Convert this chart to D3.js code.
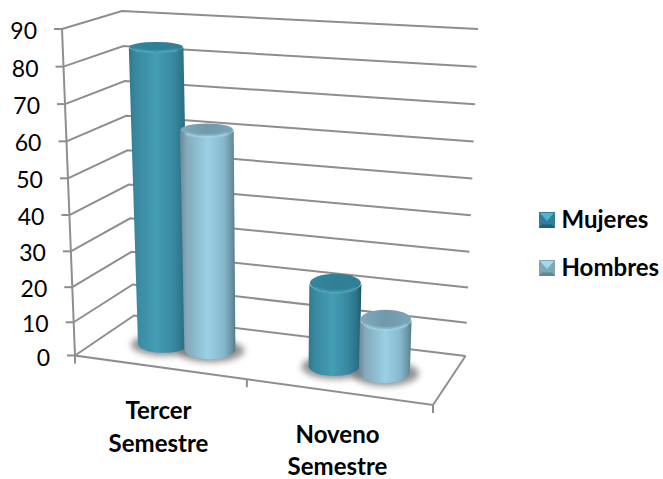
<!DOCTYPE html>
<html><head><meta charset="utf-8">
<script src="https://cdnjs.cloudflare.com/ajax/libs/d3/7.8.5/d3.min.js"></script>
<style>html,body{margin:0;padding:0;background:#fff}svg{display:block}text{font-family:Lato,"Noto Sans",sans-serif;fill:#000}</style>
</head><body><svg id="c" width="663" height="479"></svg>
<script>
const categories=[["Tercer","Semestre"],["Noveno","Semestre"]];
const seriesNames=["Mujeres","Hombres"];
const mujeres=[84,24];
const hombres=[62.5,15.5];
const valueTicks=[0,10,20,30,40,50,60,70,80,90];

const svg=d3.select("#c");
const defs=svg.append("defs");
const C={fl0:[75,355.5],fr0:[433,405],br0:[465.5,356],bl0:[134,315.5],
         fl1:[62,29],fr1:[448,65],br1:[478,29],bl1:[122,11]};
const h=d3.scalePow().exponent(1.04).domain([0,90]).range([0,1]);
const warp=d3.scaleLinear().domain([0,.5,1]).range([0,.48,1]);
const mix=(a,b,t)=>[a[0]+(b[0]-a[0])*t,a[1]+(b[1]-a[1])*t];
function P(u,v,w){
  const t=h(w);
  const f=mix(mix(C.fl0,C.fr0,u),mix(C.fl1,C.fr1,u),t);
  const b=mix(mix(C.bl0,C.br0,u),mix(C.bl1,C.br1,u),t);
  return mix(f,b,v);
}
const x0=d3.scaleBand().domain([0,1]).range([0,1]);
const x1=d3.scaleBand().domain([0,1]).range([.11,.39]);
const G="#8e8e8e";
const line=d3.line();
const grid=svg.append("g").attr("fill","none").attr("stroke",G).attr("stroke-width",2);
valueTicks.forEach(w=>{
  grid.append("path").attr("d",line([P(0,0,w),P(0,1,w),P(1,1,w)]));
  const a=P(0,0,w);
  grid.append("path").attr("d",line([[a[0]-8,a[1]],a]));
  svg.append("text").attr("x",a[0]-25).attr("y",a[1]+10).attr("text-anchor","end")
    .attr("font-size",23).text(w);
});
grid.append("path").attr("d",line([P(0,0,90),P(0,0,0),P(1,0,0),P(1,1,0)]));
[0,.5,1].forEach(u=>{
  const a=P(warp(u),0,0);
  grid.append("path").attr("d",line([a,[a[0],a[1]+8]]));
});

function grad(id,stops){
  const g=defs.append("linearGradient").attr("id",id);
  stops.forEach(s=>g.append("stop").attr("offset",s[0]).attr("stop-color",s[1]));
}
grad("g0",[[0,"#2f788e"],[.1,"#38879e"],[.45,"#459db6"],[.75,"#37889f"],[.93,"#296f84"],[1,"#1e5565"]]);
grad("g1",[[0,"#6c8894"],[.12,"#83a9ba"],[.5,"#9ad0e5"],[.78,"#87b9cd"],[.93,"#6a94a5"],[1,"#567987"]]);
grad("t0",[[0,"#34879e"],[.5,"#2f7f96"],[1,"#317f95"]]);
grad("t1",[[0,"#7fabbd"],[.5,"#7099aa"],[1,"#7aa6b8"]]);
defs.append("filter").attr("id","blur").attr("x","-30%").attr("y","-60%").attr("width","160%").attr("height","220%")
  .append("feGaussianBlur").attr("stdDeviation",3);
defs.append("filter").attr("id","soft").attr("x","-20%").attr("y","-60%").attr("width","140%").attr("height","220%")
  .append("feGaussianBlur").attr("stdDeviation",1);

const du=.074,dv=.22,V=.49;
const rimCol=["#4fa9c0","#aadcee"];
const bars=[];
seriesNames.forEach((s,si)=>{
  const vals=si==0?mujeres:hombres;
  categories.forEach((c,ci)=>{
    bars.push({si,ci,v:vals[ci],u:warp(x0(ci)+x1(si)+x1.bandwidth()/2)});
  });
});
bars.sort((a,b)=>a.ci-b.ci||a.si-b.si);
function geom(b,w){
  const L=P(b.u-du,V,w),R=P(b.u+du,V,w),F=P(b.u,V-dv,w),K=P(b.u,V+dv,w);
  return {cx:(L[0]+R[0])/2,cy:(L[1]+R[1])/2,rx:(R[0]-L[0])/2,ry:Math.abs(F[1]-K[1])/2};
}
const marks=svg.append("g");
bars.forEach(b=>{
  const g=geom(b,0);
  marks.append("ellipse").attr("cx",g.cx+1).attr("cy",g.cy+1).attr("rx",g.rx+8).attr("ry",g.ry+2)
    .attr("fill","#6e6e6e").attr("opacity",.75).attr("filter","url(#blur)");
});
bars.forEach(b=>{
  const g=geom(b,0),t=geom(b,b.v);
  marks.append("path").attr("fill",`url(#g${b.si})`)
    .attr("d",`M${t.cx-t.rx},${t.cy}L${g.cx-g.rx},${g.cy}A${g.rx},${g.ry} 0 0 0 ${g.cx+g.rx},${g.cy}L${t.cx+t.rx},${t.cy}A${t.rx},${t.ry} 0 0 1 ${t.cx-t.rx},${t.cy}Z`);
  marks.append("ellipse").attr("cx",t.cx).attr("cy",t.cy).attr("rx",t.rx-.5).attr("ry",t.ry)
    .attr("fill",`url(#t${b.si})`);
  marks.append("path").attr("fill","none").attr("stroke",rimCol[b.si]).attr("stroke-width",1.6)
    .attr("filter","url(#soft)")
    .attr("d",`M${t.cx-t.rx*.8},${t.cy+t.ry*.55}A${t.rx},${t.ry} 0 0 0 ${t.cx+t.rx*.8},${t.cy+t.ry*.55}`);
});

const lab=[[158.5,419,451.5],[337.5,443,475]];
categories.forEach((c,i)=>{
  c.forEach((s,j)=>svg.append("text").attr("x",lab[i][0]).attr("y",lab[i][j+1])
    .attr("text-anchor","middle").attr("font-size",24).attr("font-weight",700).text(s));
});
const swatch=[["#2f7f96","#4fb4d0","#1f6276"],["#7ea7b8","#a4d8ec","#5f8797"]];
seriesNames.forEach((s,i)=>{
  const y=212+48*i;
  const g=svg.append("g").attr("transform",`translate(539,${y})`);
  g.append("rect").attr("width",16).attr("height",16).attr("fill",swatch[i][0]);
  g.append("path").attr("d","M1,1H15L8,9Z").attr("fill",swatch[i][1]);
  g.append("path").attr("d","M0,16H16L13,12.5H3Z").attr("fill",swatch[i][2]);
  svg.append("text").attr("x",561.5).attr("y",y+15.5).attr("font-size",24).attr("font-weight",700).text(s);
});
</script></body></html>
